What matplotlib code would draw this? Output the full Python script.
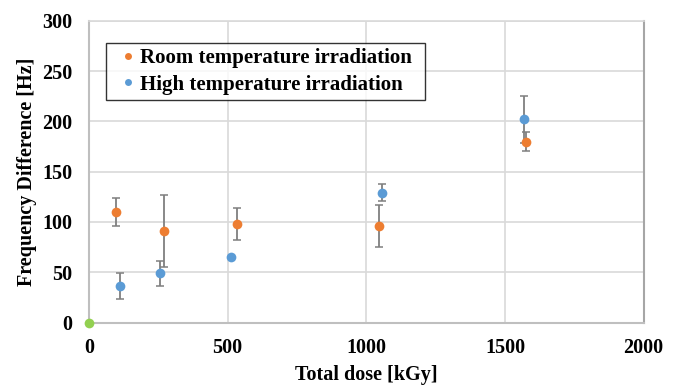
import matplotlib.pyplot as plt
from matplotlib.lines import Line2D

plt.rcParams['font.family'] = ['Liberation Serif', 'DejaVu Serif']
plt.rcParams['font.weight'] = 'bold'

# room temperature irradiation
room_dose = [96, 269, 533, 1047, 1577]
room_freq = [110, 91, 98, 96, 180]
room_err = [14, 36, 16, 21, 9]

# high temperature irradiation
high_dose = [112, 256, 511, 1055, 1567]
high_freq = [36, 49, 65, 129, 202]
high_err = [13, 12.5, 0, 8.5, 23]

# unirradiated reference
ref_dose = [0]
ref_freq = [0]

ORANGE = '#ED7D31'
BLUE = '#5B9BD5'
GREEN = '#92D050'

fig = plt.figure(figsize=(6.81, 3.87), dpi=100)
ax = fig.add_axes([0.1307, 0.1664, 0.8145, 0.7799])

err_kw = dict(ecolor='#7f7f7f', elinewidth=1.3, capsize=3, capthick=1.1, ls='none')
ax.errorbar(high_dose, high_freq, yerr=high_err, fmt='o', color=BLUE, ms=7,
            mec='none', zorder=3, **err_kw)
ax.errorbar(room_dose, room_freq, yerr=room_err, fmt='o', color=ORANGE, ms=7,
            mec='none', zorder=4, **err_kw)
ax.plot(ref_dose, ref_freq, 'o', color=GREEN, ms=7, mec='none', zorder=5, clip_on=False)

ax.set_xlim(0, 2000)
ax.set_ylim(0, 300)
ax.set_xticks(range(0, 2001, 500))
ax.set_yticks(range(0, 301, 50))
ax.grid(True, color='#d9d9d9', lw=1.2)
ax.set_axisbelow(True)
ax.tick_params(length=0, labelsize=14.5)
ax.tick_params(axis='x', pad=11)
ax.tick_params(axis='y', pad=12)
for lab in ax.get_xticklabels() + ax.get_yticklabels():
    lab.set_fontweight('bold')

for side in ['left', 'bottom']:
    ax.spines[side].set_color('#bfbfbf')
    ax.spines[side].set_linewidth(1.5)
ax.spines['right'].set_color('#a6a6a6')
ax.spines['right'].set_linewidth(1.5)
ax.spines['top'].set_color('#d9d9d9')
ax.spines['top'].set_linewidth(1.2)

ax.set_xlabel('Total dose [kGy]', fontsize=14.5, fontweight='bold', labelpad=5)
ax.set_ylabel('Frequency Difference [Hz]', fontsize=14.5, fontweight='bold', labelpad=4)

handles = [Line2D([], [], ls='none', marker='o', color=ORANGE, ms=5, mec='none'),
           Line2D([], [], ls='none', marker='o', color=BLUE, ms=5, mec='none')]
labels = ['Room temperature irradiation', 'High temperature irradiation']
leg = ax.legend(handles, labels, loc='upper left', mode='expand',
                bbox_to_anchor=(0.0306, 0.5, 0.575, 0.426),
                fontsize=15, frameon=True, fancybox=False, edgecolor='black',
                handletextpad=-0.2, handlelength=1.6, borderpad=0.25, labelspacing=0.3,
                borderaxespad=0)
leg.get_frame().set_linewidth(1.0)
for t in leg.get_texts():
    t.set_fontweight('bold')

fig.savefig('out.png', dpi=100)
